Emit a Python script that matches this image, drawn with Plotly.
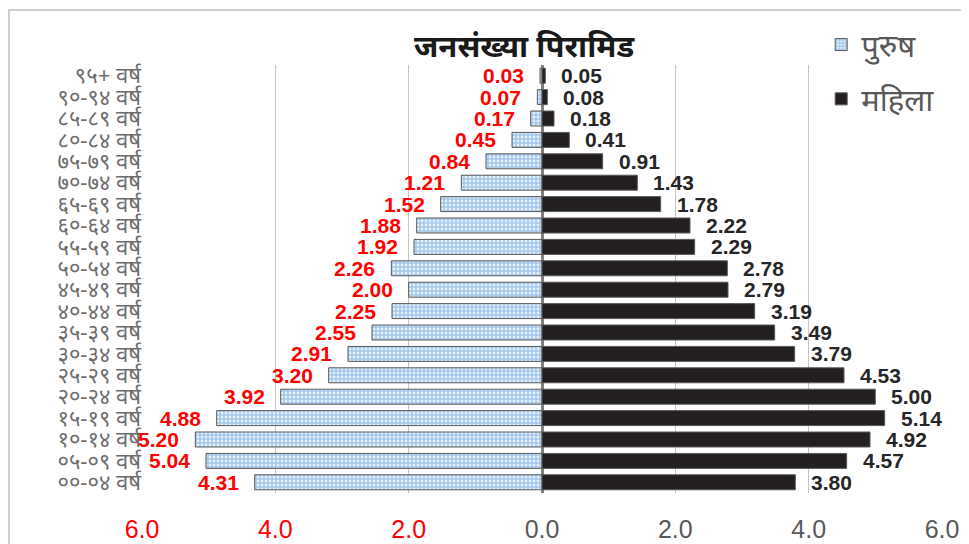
import plotly.graph_objects as go

age_groups = ["००-०४ वर्ष", "०५-०९ वर्ष", "१०-१४ वर्ष", "१५-१९ वर्ष", "२०-२४ वर्ष",
              "२५-२९ वर्ष", "३०-३४ वर्ष", "३५-३९ वर्ष", "४०-४४ वर्ष", "४५-४९ वर्ष",
              "५०-५४ वर्ष", "५५-५९ वर्ष", "६०-६४ वर्ष", "६५-६९ वर्ष", "७०-७४ वर्ष",
              "७५-७९ वर्ष", "८०-८४ वर्ष", "८५-८९ वर्ष", "९०-९४ वर्ष", "९५+ वर्ष"]
male = [4.31, 5.04, 5.20, 4.88, 3.92, 3.20, 2.91, 2.55, 2.25, 2.00,
        2.26, 1.92, 1.88, 1.52, 1.21, 0.84, 0.45, 0.17, 0.07, 0.03]
female = [3.80, 4.57, 4.92, 5.14, 5.00, 4.53, 3.79, 3.49, 3.19, 2.79,
          2.78, 2.29, 2.22, 1.78, 1.43, 0.91, 0.41, 0.18, 0.08, 0.05]
tick_vals = [-6, -4, -2, 0, 2, 4, 6]
tick_labels = ["6.0", "4.0", "2.0", "0.0", "2.0", "4.0", "6.0"]
title_text = "जनसंख्या पिरामिड"
male_name = "पुरुष"
female_name = "महिला"

fig = go.Figure()
fig.add_trace(go.Bar(
    y=age_groups, x=[-v for v in male], orientation="h", name=male_name,
    legendgroup="m",
    marker=dict(color="white", line=dict(color="#595959", width=1),
                pattern=dict(shape=".", fgcolor="#4a8fd4", bgcolor="white",
                             size=4, solidity=0.75, fillmode="overlay")),
    hoverinfo="skip",
))
fig.add_trace(go.Bar(
    y=age_groups, x=female, orientation="h", name=female_name,
    legendgroup="f",
    marker=dict(color="#231f20", line=dict(color="#595959", width=1)),
    hoverinfo="skip",
))

annotations = []
for cat, v in zip(age_groups, male):
    annotations.append(dict(x=-v, y=cat, xref="x", yref="y", text=f"{v:.2f}",
                            showarrow=False, xanchor="right", yanchor="middle",
                            xshift=-14,
                            font=dict(family="Liberation Sans", size=21,
                                      color="#ff0000", weight="bold")))
for cat, v in zip(age_groups, female):
    annotations.append(dict(x=v, y=cat, xref="x", yref="y", text=f"{v:.2f}",
                            showarrow=False, xanchor="left", yanchor="middle",
                            xshift=14,
                            font=dict(family="Liberation Sans", size=21,
                                      color="#262626", weight="bold")))
annotations.append(dict(x=0.479, y=1.047, xref="paper", yref="paper",
                        text=f"<b>{title_text}</b>", showarrow=False,
                        xanchor="center", yanchor="middle",
                        font=dict(family="Noto Sans", size=31, color="#1a1a1a")))
fig.update_layout(annotations=annotations)

ticktext = [f'<span style="color:#ff0000">{t}</span>' if v < 0 else t
            for v, t in zip(tick_vals, tick_labels)]

# page body adds an 8px offset, so the figure is sized to fit inside the window
fig.update_layout(
    width=961, height=536,
    margin=dict(l=134, r=27, t=57, b=51, autoexpand=False),
    paper_bgcolor="white", plot_bgcolor="white",
    barmode="overlay", bargap=0.3,
    showlegend=True,
    legend=dict(x=0.849, y=1.11, xanchor="left", yanchor="top",
                traceorder="grouped", tracegroupgap=11,
                font=dict(family="Noto Sans", size=31, color="#595959"),
                bgcolor="rgba(0,0,0,0)"),
    xaxis=dict(range=[-6, 6], tickvals=tick_vals, ticktext=ticktext,
               showgrid=True, gridcolor="#c4c4c4", gridwidth=1,
               zeroline=True, zerolinecolor="#7f7f7f", zerolinewidth=3,
               showline=False, ticks="", automargin=False,
               tickfont=dict(family="Liberation Sans", size=25, color="#595959"),
               ticklabelstandoff=19, fixedrange=True),
    yaxis=dict(categoryorder="array", categoryarray=age_groups,
               tickmode="array", tickvals=age_groups,
               range=[-0.5, 19.5], showgrid=False, zeroline=False,
               showline=False, ticks="", automargin=False,
               tickfont=dict(family="Noto Sans", size=22, color="#6d6d6d"),
               fixedrange=True),
    shapes=[dict(type="rect", xref="paper", yref="paper",
                 x0=-0.16625, x1=1.1, y0=-0.3, y1=1.1285,
                 line=dict(color="#d0d0d0", width=2), fillcolor="rgba(0,0,0,0)",
                 layer="below")],
)

fig.write_html("out.html")
